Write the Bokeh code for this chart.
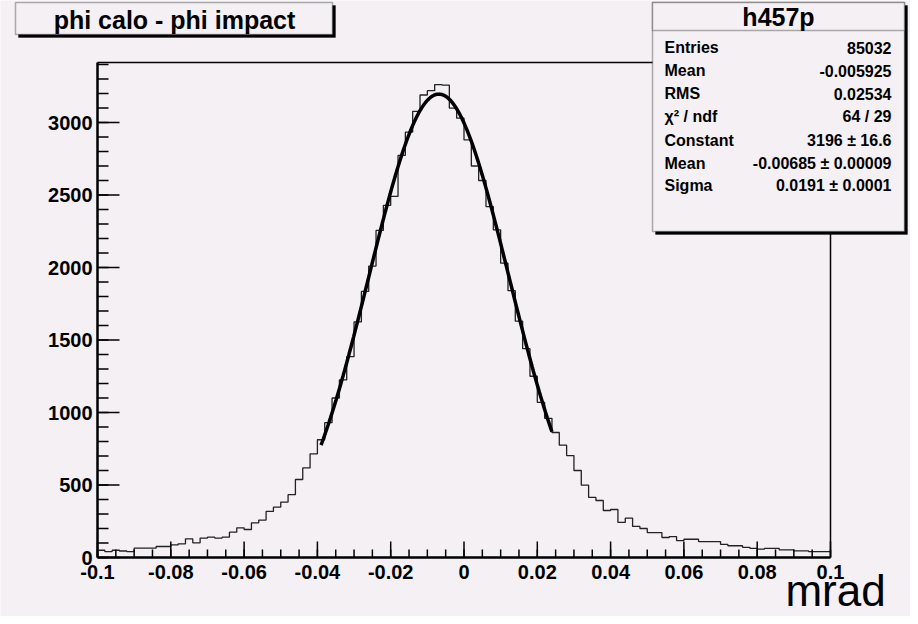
import numpy as np
from bokeh.plotting import figure
from bokeh.models import Label, BoxAnnotation, Range1d
from bokeh.core.properties import value
from bokeh.embed import file_html
from bokeh.resources import INLINE

x_min, x_max, n_bins = -0.1, 0.1, 100
y_top = 3414
counts = [50, 41, 50, 45, 41, 64, 64, 64, 76, 76,
          87, 94, 129, 101, 134, 140, 134, 140, 175, 205,
          193, 239, 258, 318, 348, 382, 433, 538, 618, 715,
          812, 930, 1100, 1225, 1385, 1625, 1835, 2010, 2256, 2429,
          2490, 2774, 2934, 3077, 3190, 3220, 3262, 3258, 3100, 3030,
          2880, 2700, 2600, 2420, 2260, 2030, 1840, 1630, 1440, 1250,
          1070, 960, 862, 775, 703, 600, 499, 414, 393, 324,
          331, 242, 271, 214, 200, 172, 172, 138, 144, 117,
          126, 126, 110, 110, 110, 90, 81, 81, 70, 63,
          58, 63, 63, 53, 53, 46, 46, 41, 41, 41]
fit_const, fit_mean, fit_sigma = 3196, -0.00685, 0.0191
fit_lo, fit_hi = -0.039, 0.024

title = "phi calo - phi impact"
stats_name = "h457p"
stats_rows = [("Entries", "85032"), ("Mean", "-0.005925"), ("RMS", "0.02534"),
              ("\u03c7\u00b2 / ndf", "64 / 29"), ("Constant", "3196 \u00b1 16.6"),
              ("Mean", "-0.00685 \u00b1 0.00009"), ("Sigma", "0.0191 \u00b1 0.0001")]
x_ticks = [-0.1, -0.08, -0.06, -0.04, -0.02, 0, 0.02, 0.04, 0.06, 0.08, 0.1]
x_tick_labels = ["-0.1", "-0.08", "-0.06", "-0.04", "-0.02", "0", "0.02", "0.04", "0.06", "0.08", "0.1"]
y_ticks = [0, 500, 1000, 1500, 2000, 2500, 3000]
y_tick_labels = ["0", "500", "1000", "1500", "2000", "2500", "3000"]
x_unit = "mrad"

BG = "#f4f0f4"
W, H = 910, 616
FL, FR, FT, FB = 97, 80, 62, 59
pxx = (W - FL - FR) / (x_max - x_min)
pxy = (H - FT - FB) / y_top
p = figure(width=W, height=H, output_backend="svg", toolbar_location=None,
           x_range=Range1d(x_min - FL / pxx, x_max + FR / pxx),
           y_range=Range1d(-FB / pxy, y_top + FT / pxy),
           min_border=0, x_axis_location=None, y_axis_location=None)
p.background_fill_color = BG
p.border_fill_color = BG
p.outline_line_color = None
p.grid.visible = False

p.segment(x0=[x_min, x_max, x_min, x_min], y0=[0, 0, 0, y_top],
          x1=[x_min, x_max, x_max, x_max], y1=[y_top, y_top, 0, y_top],
          line_color="black", line_width=[2.5, 1.5, 2.5, 1.5])

edges = np.linspace(x_min, x_max, n_bins + 1)
p.step(x=list(edges), y=counts + [counts[-1]], mode="after", line_color="#222222", line_width=1.3)

xf = np.linspace(fit_lo, fit_hi, 200)
yf = fit_const * np.exp(-0.5 * ((xf - fit_mean) / fit_sigma) ** 2)
p.line(xf, yf, line_color="black", line_width=3.5)

xt_major = np.arange(-0.1, 0.1001, 0.02)
xt_minor = np.arange(-0.1, 0.1001, 0.005)
p.segment(x0=list(xt_minor), y0=[0]*len(xt_minor), x1=list(xt_minor), y1=[8/pxy]*len(xt_minor), line_color="black", line_width=1.5)
p.segment(x0=list(xt_major), y0=[0]*len(xt_major), x1=list(xt_major), y1=[16/pxy]*len(xt_major), line_color="black", line_width=1.5)
yt_minor = np.arange(0, 3401, 100)
p.segment(x0=[x_min]*len(yt_minor), y0=list(yt_minor), x1=[x_min + 11/pxx]*len(yt_minor), y1=list(yt_minor), line_color="black", line_width=1.5)
p.segment(x0=[x_min]*len(y_ticks), y0=y_ticks, x1=[x_min + 22/pxx]*len(y_ticks), y1=y_ticks, line_color="black", line_width=1.5)

F = value("Liberation Sans")
p.text(x=x_ticks, y=[0]*len(x_ticks), text=x_tick_labels, y_offset=7, text_align="center",
       text_baseline="top", text_font=F, text_font_style="bold", text_font_size="20px", text_color="black")
p.text(x=[x_min]*len(y_ticks), y=y_ticks, text=y_tick_labels, x_offset=-5, text_align="right",
       text_baseline="middle", text_font=F, text_font_style="bold", text_font_size="20px", text_color="black")
p.text(x=[x_max], y=[0], text=[x_unit], x_offset=5, y_offset=33, text_align="center",
       text_baseline="middle", text_font=F, text_font_size="44px", text_color="black")

U = "canvas"
def box(l, t, r, b, fill=BG, shadow=True):
    if shadow:
        p.add_layout(BoxAnnotation(left=l+3, right=r+3, top=t+3, bottom=b+3,
                                   left_units=U, right_units=U, top_units=U, bottom_units=U,
                                   fill_color="black", fill_alpha=1, line_color="black", level="overlay"))
    p.add_layout(BoxAnnotation(left=l, right=r, top=t, bottom=b,
                               left_units=U, right_units=U, top_units=U, bottom_units=U,
                               fill_color=fill, fill_alpha=1, line_color="black", line_width=1.5, level="overlay"))

def label(x, y, text, size, align="left", bold=True):
    p.add_layout(Label(x=x, y=y, x_units=U, y_units=U, text=text, text_color="black",
                       text_font="Liberation Sans", text_font_size=size,
                       text_font_style="bold" if bold else "normal",
                       text_align=align, text_baseline="middle", level="overlay"))

box(15, 2, 332, 34)
label(174, 19, title, "25px", align="center")

box(652, 2, 904, 231)
box(652, 2, 904, 30, shadow=False)
label(778, 16, stats_name, "25px", align="center")
row_y = [47, 70, 93, 116, 140, 163, 185]
for (k, v), yy in zip(stats_rows, row_y):
    label(664, yy, k, "16px")
    label(891, yy, v, "16px", align="right")

open("out.html", "w").write(file_html(p, INLINE))
